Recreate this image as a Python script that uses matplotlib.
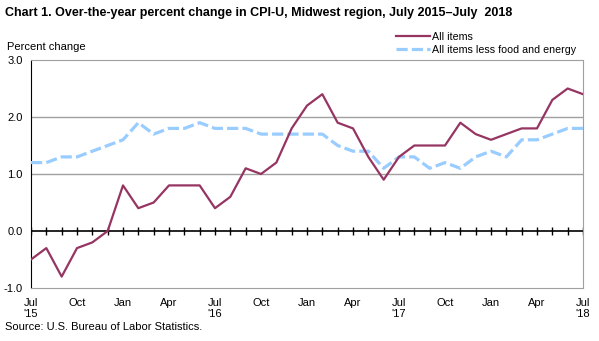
import numpy as np
import matplotlib
matplotlib.use('Agg')
import matplotlib.pyplot as plt

plt.rcParams['font.family'] = ['Liberation Sans', 'DejaVu Sans']

# monthly, Jul 2015 .. Jul 2018
all_items = [-0.5, -0.3, -0.8, -0.3, -0.2, 0.0, 0.8, 0.4, 0.5, 0.8, 0.8, 0.8,
             0.4, 0.6, 1.1, 1.0, 1.2, 1.8, 2.2, 2.4, 1.9, 1.8, 1.3, 0.9,
             1.3, 1.5, 1.5, 1.5, 1.9, 1.7, 1.6, 1.7, 1.8, 1.8, 2.3, 2.5, 2.4]
core = [1.2, 1.2, 1.3, 1.3, 1.4, 1.5, 1.6, 1.9, 1.7, 1.8, 1.8, 1.9,
        1.8, 1.8, 1.8, 1.7, 1.7, 1.7, 1.7, 1.7, 1.5, 1.4, 1.4, 1.1,
        1.3, 1.3, 1.1, 1.2, 1.1, 1.3, 1.4, 1.3, 1.6, 1.6, 1.7, 1.8, 1.8]
tick_labels = ["Jul\n'15", "Oct", "Jan", "Apr", "Jul\n'16", "Oct", "Jan", "Apr",
               "Jul\n'17", "Oct", "Jan", "Apr", "Jul\n'18"]

x = np.arange(len(all_items))

fig = plt.figure(figsize=(5.99, 3.41), dpi=100)
ax = fig.add_axes([31/599, 1 - 288/341, 552/599, 228/341])

for v in [1, 2]:
    ax.axhline(v, color='#a0a0a0', lw=1, zorder=1)
ax.axhline(0, color='black', lw=1.2, zorder=2)
ax.vlines(x, -0.07, 0.07, color='black', lw=1, zorder=2)

ax.plot(x, all_items, color='#963462', lw=1.6, label='All items', zorder=4)
ax.plot(x, core, color='#99ccff', lw=2.3, dashes=(3.5, 1.3),
        label='All items less food and energy', zorder=3)

ax.set_xlim(0, 36)
ax.set_ylim(-1, 3)
ax.set_yticks([-1, 0, 1, 2, 3])
ax.set_yticklabels(['-1.0', '0.0', '1.0', '2.0', '3.0'])
ax.set_xticks(range(0, 37, 3))
ax.set_xticklabels(tick_labels, ha='center', va='top', linespacing=1.2)
ax.tick_params(axis='both', length=0, labelsize=8)
ax.tick_params(axis='x', pad=7)
ax.tick_params(axis='y', pad=6)
for s in ['top', 'right', 'bottom']:
    ax.spines[s].set_color('#a0a0a0')
ax.spines['left'].set_color('black')

fig.text(5/599, 1 - 13/341, 'Chart 1. Over-the-year percent change in CPI-U, Midwest region, July 2015\u2013July  2018',
         fontsize=9, fontweight='bold', va='center')
fig.text(7/599, 1 - 47/341, 'Percent change', fontsize=8, va='center')
fig.text(5/599, 1 - 327/341, 'Source: U.S. Bureau of Labor Statistics.', fontsize=8, va='center')

fig.legend(loc='upper left', bbox_to_anchor=(396/599, 1 - 32/341), frameon=False,
           fontsize=7.7, handlelength=3.2, labelspacing=0.25, borderpad=0,
           borderaxespad=0, handletextpad=0.2)

fig.savefig('out.png', dpi=100)
